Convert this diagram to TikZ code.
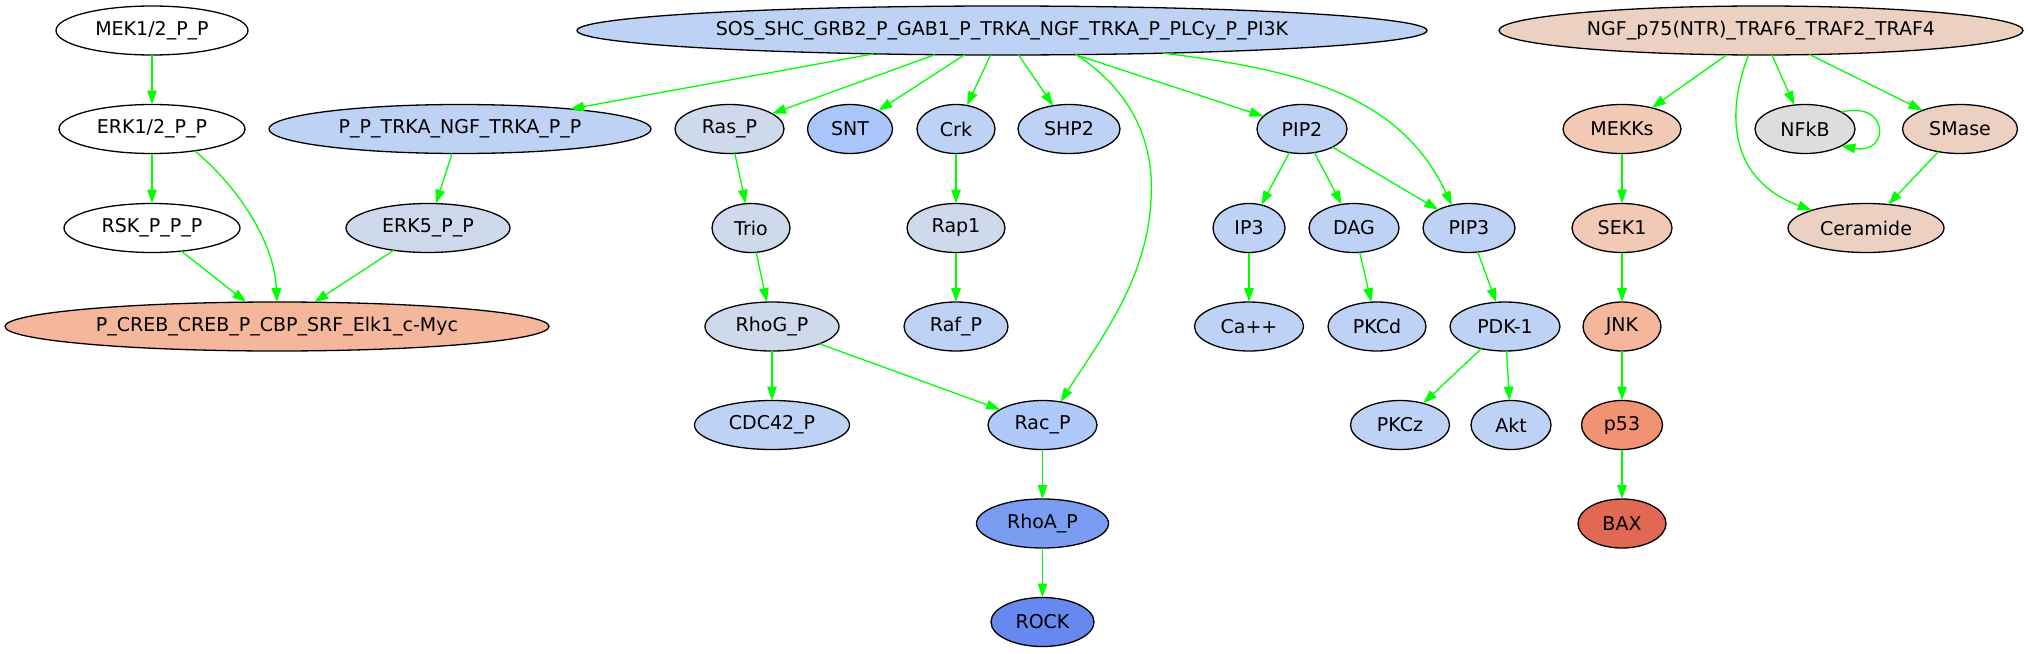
\documentclass[tikz,border=0pt]{standalone}
\usepackage{fontspec}
\setmainfont{DejaVu Sans}
\usetikzlibrary{shapes.geometric,arrows.meta}
\definecolor{actgreen}{RGB}{0,255,0}
\definecolor{bluea}{RGB}{190,210,245}
\definecolor{blueg}{RGB}{206,217,235}
\definecolor{bluesnt}{RGB}{169,197,250}
\definecolor{bluerac}{RGB}{174,201,250}
\definecolor{bluerhoa}{RGB}{122,157,242}
\definecolor{bluerock}{RGB}{103,136,238}
\definecolor{tana}{RGB}{236,209,194}
\definecolor{tanb}{RGB}{242,201,180}
\definecolor{salmon}{RGB}{245,183,156}
\definecolor{redp}{RGB}{241,146,116}
\definecolor{redbax}{RGB}{225,104,82}
\definecolor{grayn}{RGB}{221,221,221}
\begin{document}
\begin{tikzpicture}[x=1pt, y=-1pt,
    mol/.style={draw, ellipse, line width=1.3pt, inner sep=0pt, outer sep=0pt,
        minimum height=49pt, font=\fontsize{19}{22}\selectfont},
    act/.style={->, >={Triangle[length=14pt, width=9.5pt]}, draw=actgreen, line width=1.3pt}]
    \useasboundingbox (0, 0) rectangle (2028, 653);

    % ERK-Zweig links
    \node[mol, fill=white, minimum width=192pt] (mek) at (152, 30.5) {MEK1/2\_P\_P};
    \node[mol, fill=white, minimum width=186pt] (erk) at (152, 129) {ERK1/2\_P\_P};
    \node[mol, fill=white, minimum width=176pt] (rsk) at (152, 228) {RSK\_P\_P\_P};
    \node[mol, fill=salmon, minimum width=544pt] (creb) at (277, 326.5) {P\_CREB\_CREB\_P\_CBP\_SRF\_Elk1\_c-Myc};
    \node[mol, fill=bluea, minimum width=382pt] (trka) at (460, 129) {P\_P\_TRKA\_NGF\_TRKA\_P\_P};
    \node[mol, fill=blueg, minimum width=164pt] (erkfive) at (428, 228) {ERK5\_P\_P};

    % TRKA-Komplex
    \node[mol, fill=bluea, minimum width=850pt] (sos) at (1002, 30.5) {SOS\_SHC\_GRB2\_P\_GAB1\_P\_TRKA\_NGF\_TRKA\_P\_PLCy\_P\_PI3K};
    \node[mol, fill=blueg, minimum width=109pt] (ras) at (729.5, 129) {Ras\_P};
    \node[mol, fill=bluesnt, minimum width=85pt] (snt) at (850, 129) {SNT};
    \node[mol, fill=bluea, minimum width=78pt] (crk) at (956, 129) {Crk};
    \node[mol, fill=bluea, minimum width=102pt] (shp) at (1069, 129) {SHP2};
    \node[mol, fill=bluea, minimum width=90pt] (piptwo) at (1302, 129) {PIP2};
    \node[mol, fill=blueg, minimum width=78pt] (trio) at (751, 228) {Trio};
    \node[mol, fill=blueg, minimum width=98pt] (rap) at (956, 228) {Rap1};
    \node[mol, fill=bluea, minimum width=72pt] (ipthree) at (1249, 228) {IP3};
    \node[mol, fill=bluea, minimum width=90pt] (dag) at (1354, 228) {DAG};
    \node[mol, fill=bluea, minimum width=92pt] (pipthree) at (1469, 228) {PIP3};
    \node[mol, fill=blueg, minimum width=134pt] (rhog) at (772, 326.5) {RhoG\_P};
    \node[mol, fill=bluea, minimum width=104pt] (raf) at (956, 326.5) {Raf\_P};
    \node[mol, fill=bluea, minimum width=109pt] (ca) at (1249, 326.5) {Ca++};
    \node[mol, fill=bluea, minimum width=98pt] (pkcd) at (1377, 326.5) {PKCd};
    \node[mol, fill=bluea, minimum width=110pt] (pdk) at (1505, 326.5) {PDK-1};
    \node[mol, fill=bluea, minimum width=155pt] (cdc) at (772, 425) {CDC42\_P};
    \node[mol, fill=bluerac, minimum width=109pt] (rac) at (1042.5, 425) {Rac\_P};
    \node[mol, fill=bluea, minimum width=99pt] (pkcz) at (1400, 425) {PKCz};
    \node[mol, fill=bluea, minimum width=80pt] (akt) at (1511, 425) {Akt};
    \node[mol, fill=bluerhoa, minimum width=132pt] (rhoa) at (1042.5, 523.5) {RhoA\_P};
    \node[mol, fill=bluerock, minimum width=103pt] (rock) at (1042.5, 622) {ROCK};

    % p75-Zweig rechts
    \node[mol, fill=tana, minimum width=524pt] (ngf) at (1761, 30.5) {NGF\_p75(NTR)\_TRAF6\_TRAF2\_TRAF4};
    \node[mol, fill=tanb, minimum width=118pt] (mekks) at (1622, 129) {MEKKs};
    \node[mol, fill=grayn, minimum width=100pt] (nfkb) at (1805, 129) {NFkB};
    \node[mol, fill=tana, minimum width=115pt] (smase) at (1960, 129) {SMase};
    \node[mol, fill=tanb, minimum width=100pt] (sek) at (1622, 228) {SEK1};
    \node[mol, fill=tana, minimum width=156pt] (ceramide) at (1866, 228) {Ceramide};
    \node[mol, fill=salmon, minimum width=78pt] (jnk) at (1622, 326.5) {JNK};
    \node[mol, fill=redp, minimum width=81pt] (p) at (1622, 425) {p53};
    \node[mol, fill=redbax, minimum width=88pt] (bax) at (1622, 523.5) {BAX};

    % Pfeile ERK
    \draw[act] (mek) -- (erk);
    \draw[act] (erk) -- (rsk);
    \draw[act] (erk.-27) .. controls (236, 185) and (274, 240) .. (creb.90);
    \draw[act] (rsk) -- (creb);
    \draw[act] (erkfive) -- (creb);
    \draw[act] (trka) -- (erkfive);

    % Pfeile TRKA
    \draw[act] (sos) -- (trka);
    \draw[act] (sos) -- (ras);
    \draw[act] (sos) -- (snt);
    \draw[act] (sos) -- (crk);
    \draw[act] (sos) -- (shp);
    \draw[act] (sos) -- (piptwo);
    \draw[act] (sos.-18) .. controls (1130, 90) and (1155, 140) .. (1151, 200)
        .. controls (1147, 280) and (1100, 340) .. (rac.52);
    \draw[act] (sos.-8) .. controls (1300, 70) and (1400, 95) .. (pipthree.127);
    \draw[act] (ras) -- (trio);
    \draw[act] (trio) -- (rhog);
    \draw[act] (rhog) -- (cdc);
    \draw[act] (rhog) -- (rac);
    \draw[act] (rac) -- (rhoa);
    \draw[act] (rhoa) -- (rock);
    \draw[act] (crk) -- (rap);
    \draw[act] (rap) -- (raf);
    \draw[act] (piptwo) -- (ipthree);
    \draw[act] (piptwo) -- (dag);
    \draw[act] (piptwo) -- (pipthree);
    \draw[act] (ipthree) -- (ca);
    \draw[act] (dag) -- (pkcd);
    \draw[act] (pipthree) -- (pdk);
    \draw[act] (pdk) -- (pkcz);
    \draw[act] (pdk) -- (akt);

    % Pfeile p75
    \draw[act] (ngf) -- (mekks);
    \draw[act] (ngf) -- (nfkb);
    \draw[act] (ngf) -- (smase);
    \draw[act] (ngf.243) .. controls (1725, 115) and (1730, 180) .. (ceramide.162);
    \draw[act] (nfkb.25) .. controls (1890, 100) and (1890, 155) .. (nfkb.-25);
    \draw[act] (smase) -- (ceramide);
    \draw[act] (mekks) -- (sek);
    \draw[act] (sek) -- (jnk);
    \draw[act] (jnk) -- (p);
    \draw[act] (p) -- (bax);
\end{tikzpicture}
\end{document}
